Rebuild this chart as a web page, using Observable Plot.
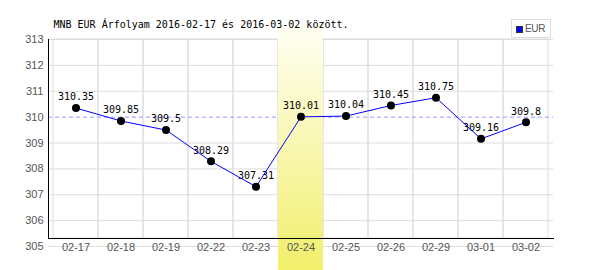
<!DOCTYPE html>
<html>
<head>
<meta charset="utf-8">
<script src="https://cdn.jsdelivr.net/npm/d3@7"></script>
<script src="https://cdn.jsdelivr.net/npm/@observablehq/plot@0.6"></script>
<style>
  html, body { margin: 0; padding: 0; background: #fff; }
  #wrap { position: relative; width: 600px; height: 270px; }
  #legend { position: absolute; left: 511px; top: 19px; width: 40px; height: 19px;
            border: 1px solid #dddddd; background: #fff; box-sizing: border-box; }
  #legend .sw { position: absolute; left: 4px; top: 6px; width: 5px; height: 5px;
                background: #0000ff; border: 1px solid #333; }
  #legend .lb { position: absolute; left: 13px; top: 3px; font: 10px "Liberation Sans", Arial, sans-serif;
                color: #555; letter-spacing: -0.3px; }
</style>
</head>
<body>
<div id="wrap"></div>
<script>
const title = "MNB EUR Árfolyam 2016-02-17 és 2016-03-02 között.";
const dates = ["02-17","02-18","02-19","02-22","02-23","02-24","02-25","02-26","02-29","03-01","03-02"];
const rates = [310.35, 309.85, 309.5, 308.29, 307.31, 310.01, 310.04, 310.45, 310.75, 309.16, 309.8];
const yTicks = [305, 306, 307, 308, 309, 310, 311, 312, 313];
const highlightDates = ["02-24"];
const referenceLevel = [310];
const seriesName = "EUR";

const data = dates.map((d, i) => ({date: d, rate: rates[i]}));
const mono = "'DejaVu Sans Mono', 'Liberation Mono', monospace";
const sans = "'Liberation Sans', Arial, sans-serif";

const chart = Plot.plot({
  width: 600,
  height: 270,
  marginLeft: 48,
  marginRight: 47,
  marginTop: 39,
  marginBottom: 32,
  style: {fontFamily: sans, fontSize: "11px", background: "white", overflow: "hidden"},
  x: {type: "band", domain: dates, padding: 0},
  y: {domain: [305, 313], range: [246, 39]},
  marks: [
    Plot.gridY(yTicks.filter(t => t !== 310), {stroke: "#dddddd", strokeOpacity: 1}),
    Plot.cell(dates, {x: d => d, stroke: "#dddddd", fill: "none", inset: 0}),
    Plot.ruleY(referenceLevel, {stroke: "#9999ff", strokeDasharray: "4,3"}),
    Plot.barY(highlightDates, {x: d => d, y1: 313.55, y2: 304, fill: "url(#hlgrad)", inset: 0}),
    Plot.frame({anchor: "left", stroke: "#000"}),
    Plot.frame({anchor: "bottom", stroke: "#000"}),
    Plot.axisY({ticks: yTicks, tickSize: 0, tickPadding: 5, tickFormat: d => String(d), fill: "#555", fontSize: 11, label: null}),
    Plot.axisX({tickSize: 0, tickPadding: 5, fill: "#555", fontSize: 11, label: null}),
    Plot.text([title], {frameAnchor: "top-left", dx: 5, dy: -15, lineAnchor: "middle", textAnchor: "start", fontFamily: mono, fontSize: 10, fill: "#000"}),
    Plot.text(data, {x: "date", y: "rate", text: d => String(d.rate), dy: -11, lineAnchor: "middle", fontFamily: mono, fontSize: 10, fill: "#000"}),
    Plot.line(data, {x: "date", y: "rate", stroke: "#0000ff", strokeWidth: 1}),
    Plot.dot(data, {x: "date", y: "rate", r: 4, fill: "#000", stroke: "none"})
  ]
});

// gradient definition for the highlighted day
const ns = "http://www.w3.org/2000/svg";
const defs = document.createElementNS(ns, "defs");
const grad = document.createElementNS(ns, "linearGradient");
grad.setAttribute("id", "hlgrad");
grad.setAttribute("x1", "0"); grad.setAttribute("y1", "0");
grad.setAttribute("x2", "0"); grad.setAttribute("y2", "1");
[["0%", "#fffff4"], ["100%", "#f1ef6a"]].forEach(([o, c]) => {
  const s = document.createElementNS(ns, "stop");
  s.setAttribute("offset", o); s.setAttribute("stop-color", c);
  grad.appendChild(s);
});
defs.appendChild(grad);
chart.insertBefore(defs, chart.firstChild);

const wrap = document.getElementById("wrap");
wrap.appendChild(chart);
const legend = document.createElement("div");
legend.id = "legend";
legend.innerHTML = '<div class="sw"></div><div class="lb"></div>';
legend.querySelector(".lb").textContent = seriesName;
wrap.appendChild(legend);
</script>
</body>
</html>
